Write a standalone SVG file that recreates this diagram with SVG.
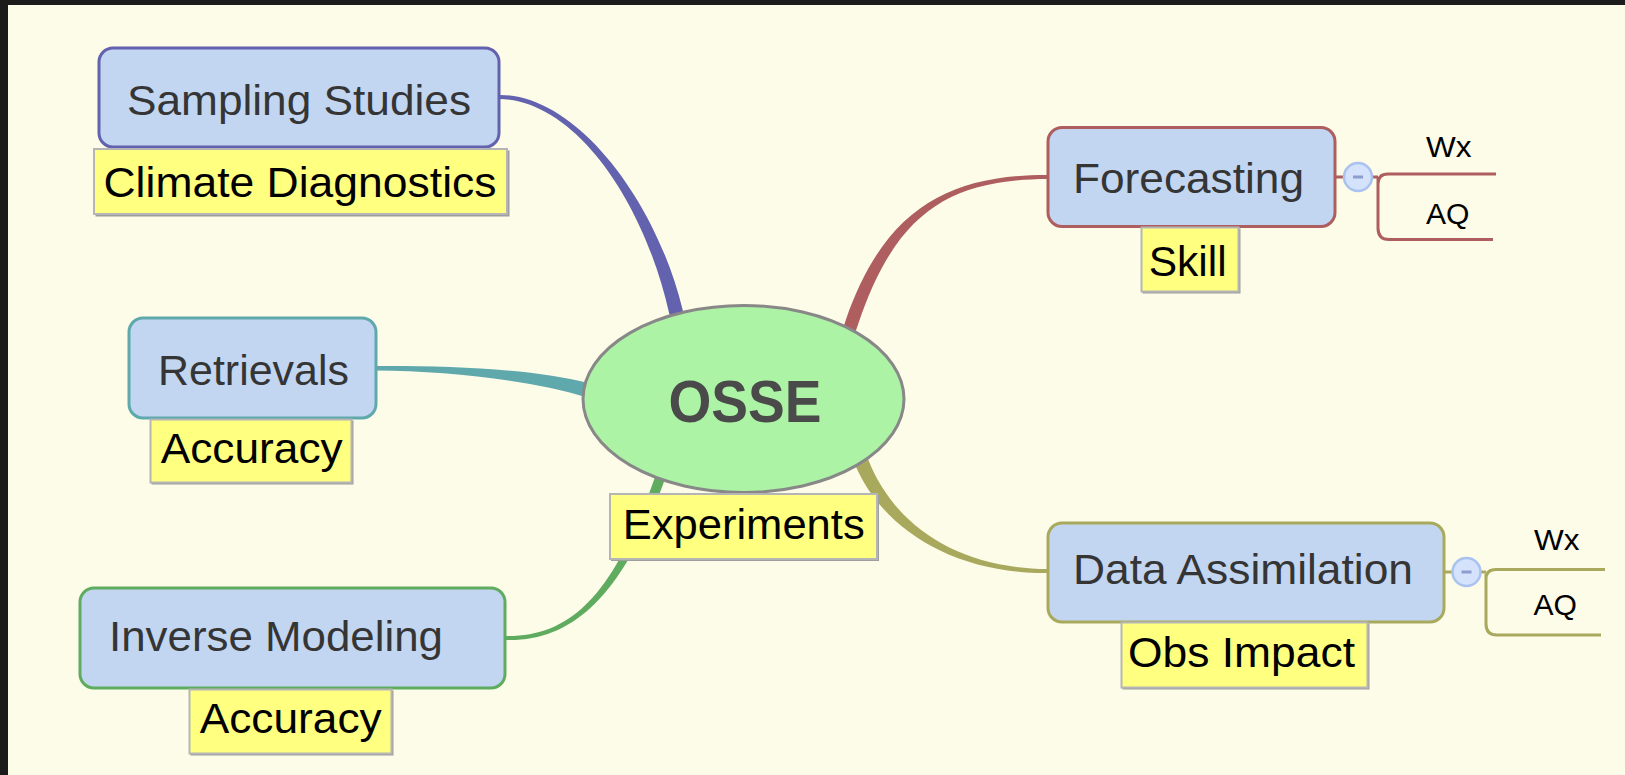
<svg xmlns="http://www.w3.org/2000/svg" width="1625" height="775" viewBox="0 0 1625 775">
<style>
.topic{fill:#c2d6f1;stroke-width:3}
.ttext{font-family:"Liberation Sans",Arial,sans-serif;font-size:42px;fill:#353535}
.lbl{fill:#ffff80;stroke:#b5b5b5;stroke-width:2}
.lshadow{fill:#9e9e9e}
.ltext{font-family:"Liberation Sans",Arial,sans-serif;font-size:42px;fill:#000}
.sub{font-family:"Liberation Sans",Arial,sans-serif;font-size:30px;fill:#000}
.col{fill:#d4e2fb;stroke:#a9c2ef;stroke-width:2.5}
.minus{stroke:#8e9dd0;stroke-width:3}
.br{fill:none;stroke-width:3}
</style>
<rect x="0" y="0" width="1625" height="775" fill="#fdfce8"/>
<rect x="0" y="0" width="1625" height="5" fill="#1b1b1b"/>
<rect x="0" y="0" width="8" height="775" fill="#1b1b1b"/>

<g id="connectors">
<path d="M499,95 C575,94 655.8,198.6 682.8,310.4 L685.1,320.1 L671.5,323.3 L669.2,313.6 C644.2,201.4 575,100 499,99 Z" fill="#6262ae"/>
<path d="M1048,175 C950,174.5 884.3,208.1 845.8,319.9 L842.6,329.4 L854.9,333.6 L858.2,324.1 C895.7,211.9 950,179.5 1048,179 Z" fill="#ae5e5e"/>
<path d="M376,366 C450,365.5 535,369 590,383.5 L587,397.5 C535,381 450,371 376,370.5 Z" fill="#5fa9ad"/>
<path d="M1048,573 C958,574 884.5,532.3 855.5,465.7 L851.6,456.5 L864.6,451.1 L868.5,460.3 C895.5,527.7 960,568.5 1048,569 Z" fill="#a9a95e"/>
<path d="M505,636 C575,637.5 615.8,588.5 655.3,476.3 L658.7,466.9 L668.1,470.3 L664.7,479.7 C624.2,591.5 575,642.5 505,640 Z" fill="#5fac60"/>
<path class="br" stroke="#ae5e5e" d="M1334,177 H1344 M1372,177 H1378 M1378,184 Q1378,174 1388,174 H1496 M1378,178 V228 Q1378,239.5 1389,239.5 H1493"/>
<path class="br" stroke="#a9a95e" d="M1443,572 H1452 M1480,572 H1486 M1486,579 Q1486,569.5 1496,569.5 H1605 M1486,574 V624 Q1486,635 1497,635 H1601"/>
</g>

<g id="osse">
<ellipse cx="743.5" cy="399" rx="160.5" ry="93.5" fill="#adf3a5" stroke="#888" stroke-width="3"/>
<text x="668.5" y="421.7" font-family="'Liberation Sans',Arial,sans-serif" font-weight="bold" font-size="59" fill="#4a4a4a" textLength="153" lengthAdjust="spacingAndGlyphs">OSSE</text>
</g>

<g id="sampling">
<rect class="topic" x="99" y="48" width="400" height="99" rx="14" stroke="#6262ae"/>
<text class="ttext" x="127" y="115" textLength="344" lengthAdjust="spacingAndGlyphs">Sampling Studies</text>
</g>
<g id="sampling-label">
<rect class="lshadow" x="95.5" y="150.5" width="414" height="66"/>
<rect class="lbl" x="94" y="149" width="413" height="65"/>
<text class="ltext" x="103.5" y="197" textLength="393" lengthAdjust="spacingAndGlyphs">Climate Diagnostics</text>
</g>

<g id="retrievals">
<rect class="topic" x="129" y="318" width="247" height="100" rx="14" stroke="#5fa9ad"/>
<text class="ttext" x="158" y="385" textLength="191" lengthAdjust="spacingAndGlyphs">Retrievals</text>
</g>
<g id="retrievals-label">
<rect class="lshadow" x="151.5" y="420.5" width="202" height="64"/>
<rect class="lbl" x="150.5" y="419.5" width="201" height="63"/>
<text class="ltext" x="160.7" y="463.3" textLength="182" lengthAdjust="spacingAndGlyphs">Accuracy</text>
</g>

<g id="inverse">
<rect class="topic" x="80" y="588" width="425" height="100" rx="14" stroke="#5fac60"/>
<text class="ttext" x="109" y="650.7" textLength="334" lengthAdjust="spacingAndGlyphs">Inverse Modeling</text>
</g>
<g id="inverse-label">
<rect class="lshadow" x="190.5" y="690.5" width="203" height="65"/>
<rect class="lbl" x="189.5" y="689.5" width="202" height="64"/>
<text class="ltext" x="199.7" y="733.3" textLength="182" lengthAdjust="spacingAndGlyphs">Accuracy</text>
</g>

<g id="experiments-label">
<rect class="lshadow" x="611" y="495" width="268" height="66"/>
<rect class="lbl" x="610" y="494" width="267" height="65"/>
<text class="ltext" x="622.7" y="539.3" textLength="242" lengthAdjust="spacingAndGlyphs">Experiments</text>
</g>

<g id="forecasting">
<rect class="topic" x="1048" y="127.5" width="287" height="99" rx="14" stroke="#ae5e5e"/>
<text class="ttext" x="1073" y="193.3" textLength="231" lengthAdjust="spacingAndGlyphs">Forecasting</text>
<circle class="col" cx="1358" cy="177" r="14"/>
<line class="minus" x1="1353" y1="177" x2="1363" y2="177"/>
</g>
<g id="forecasting-label">
<rect class="lshadow" x="1142.5" y="228.5" width="98" height="65"/>
<rect class="lbl" x="1141.5" y="227.5" width="97" height="64"/>
<text class="ltext" x="1148.7" y="276" textLength="78" lengthAdjust="spacingAndGlyphs">Skill</text>
</g>
<g id="forecasting-wx"><text class="sub" x="1426" y="157.3" textLength="45.5" lengthAdjust="spacingAndGlyphs">Wx</text></g>
<g id="forecasting-aq"><text class="sub" x="1426" y="224" textLength="43.5" lengthAdjust="spacingAndGlyphs">AQ</text></g>

<g id="data-assimilation">
<rect class="topic" x="1048" y="523" width="396" height="99" rx="14" stroke="#a9a95e"/>
<text class="ttext" x="1073" y="584.3" textLength="340" lengthAdjust="spacingAndGlyphs">Data Assimilation</text>
<circle class="col" cx="1466.5" cy="572" r="14"/>
<line class="minus" x1="1461.5" y1="572" x2="1471.5" y2="572"/>
</g>
<g id="da-label">
<rect class="lshadow" x="1122.5" y="623.5" width="247" height="66"/>
<rect class="lbl" x="1121.5" y="622.5" width="246" height="65"/>
<text class="ltext" x="1128" y="666.7" textLength="227" lengthAdjust="spacingAndGlyphs">Obs Impact</text>
</g>
<g id="da-wx"><text class="sub" x="1534" y="549.7" textLength="45.5" lengthAdjust="spacingAndGlyphs">Wx</text></g>
<g id="da-aq"><text class="sub" x="1533.5" y="615.4" textLength="43.5" lengthAdjust="spacingAndGlyphs">AQ</text></g>
</svg>
